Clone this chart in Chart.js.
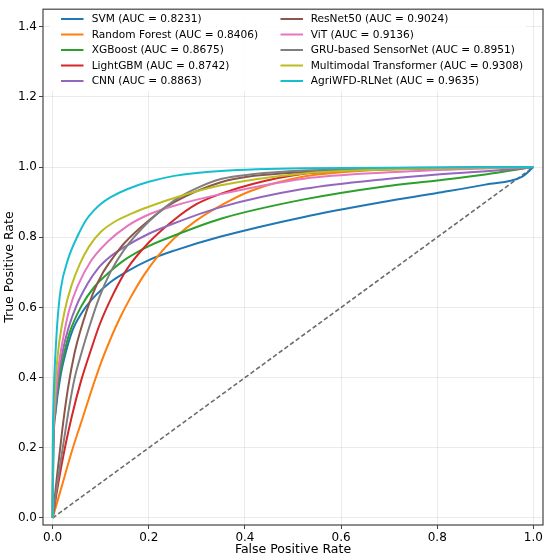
<!DOCTYPE html>
<html><head><meta charset="utf-8">
<script src="https://cdn.jsdelivr.net/npm/chart.js@4.4.1/dist/chart.umd.min.js"></script>
<style>html,body{margin:0;padding:0;background:#fff;overflow:hidden}#wrap{width:550px;height:559px}</style>
</head><body><div id="wrap"><canvas id="c" width="550" height="559" style="width:550px;height:559px"></canvas></div>
<script>
// ---------- data ----------
const modelNames = ['SVM','Random Forest','XGBoost','LightGBM','CNN','ResNet50','ViT','GRU-based SensorNet','Multimodal Transformer','AgriWFD-RLNet'];
const aucValues = [0.8231,0.8406,0.8675,0.8742,0.8863,0.9024,0.9136,0.8951,0.9308,0.9635];

const svmFPR = [0,0.0016,0.0061,0.0158,0.028,0.042,0.055,0.07,0.09,0.12,0.155,0.2,0.253,0.35,0.523,0.69,0.8,0.9,0.977,1];
const svmTPR = [0,0.2,0.3,0.4,0.475,0.537,0.572,0.603,0.635,0.672,0.703,0.735,0.762,0.802,0.858,0.901,0.926,0.950,0.973,1];

const rfFPR = [0,0.02,0.04,0.06,0.08,0.1,0.125,0.14,0.16,0.19,0.218,0.253,0.3,0.357,0.416,0.523,0.6,0.7,0.85,1];
const rfTPR = [0,0.095,0.19,0.275,0.36,0.44,0.525,0.57,0.623,0.692,0.745,0.797,0.849,0.896,0.934,0.973,0.985,0.993,0.997,1];

const xgbFPR = [0,0.0014,0.0054,0.0141,0.025,0.035,0.0595,0.087,0.12,0.149,0.2,0.253,0.35,0.523,0.69,0.8,0.9,1];
const xgbTPR = [0,0.2,0.3,0.4,0.475,0.527,0.603,0.659,0.703,0.735,0.775,0.805,0.853,0.908,0.945,0.962,0.979,1];

const lgbmFPR = [0,0.012,0.0256,0.04,0.059,0.08,0.0975,0.125,0.155,0.2,0.253,0.3,0.352,0.416,0.523,0.7,1];
const lgbmTPR = [0,0.1,0.2,0.29,0.39,0.48,0.55,0.635,0.71,0.785,0.85,0.895,0.925,0.952,0.981,0.994,1];

const cnnFPR = [0,0.0012,0.0046,0.0118,0.021,0.032,0.049,0.073,0.095,0.12,0.149,0.2,0.253,0.35,0.523,0.7,0.8,0.95,1];
const cnnTPR = [0,0.2,0.3,0.4,0.475,0.537,0.603,0.668,0.712,0.745,0.772,0.81,0.84,0.886,0.938,0.967,0.979,0.993,1];

const resnetFPR = [0,0.01,0.02,0.032,0.0456,0.057,0.084,0.105,0.129,0.149,0.2,0.253,0.35,0.42,0.523,0.7,1];
const resnetTPR = [0,0.13,0.25,0.37,0.47,0.53,0.64,0.70,0.748,0.783,0.848,0.9,0.957,0.975,0.986,0.995,1];

const vitFPR = [0,0.00096,0.0037,0.0096,0.0171,0.0214,0.028,0.035,0.0525,0.08,0.115,0.155,0.2,0.253,0.35,0.523,0.7,0.85,1];
const vitTPR = [0,0.2,0.3,0.4,0.475,0.508,0.555,0.595,0.662,0.733,0.788,0.832,0.865,0.89,0.923,0.967,0.985,0.994,1];

const gruFPR = [0,0.01,0.02,0.035,0.046,0.06,0.073,0.0975,0.12,0.149,0.2,0.253,0.3,0.35,0.42,0.523,0.7,1];
const gruTPR = [0,0.1,0.19,0.32,0.4,0.47,0.53,0.63,0.70,0.765,0.845,0.905,0.94,0.966,0.98,0.99,0.997,1];

const mmtFPR = [0,0.00065,0.0025,0.0065,0.0116,0.0145,0.025,0.0387,0.056,0.075,0.1,0.13,0.165,0.2,0.253,0.35,0.523,0.7,1];
const mmtTPR = [0,0.2,0.3,0.4,0.475,0.508,0.59,0.66,0.722,0.772,0.815,0.845,0.868,0.887,0.912,0.948,0.982,0.993,1];

const agriFPR = [0,0.00035,0.00135,0.0035,0.0062,0.0097,0.0166,0.032,0.0525,0.07,0.087,0.1,0.12,0.155,0.2,0.253,0.35,0.52,1];
const agriTPR = [0,0.2,0.3,0.4,0.475,0.555,0.65,0.737,0.805,0.85,0.878,0.895,0.914,0.937,0.958,0.975,0.989,0.997,1];

const diagFPR = [0,1];
const diagTPR = [0,1];

const xTicks = [0,0.2,0.4,0.6,0.8,1.0];
const yTicks = [0,0.2,0.4,0.6,0.8,1.0,1.2,1.4];

// ---------- styles ----------
const colors = ['#1f77b4','#ff7f0e','#2ca02c','#d62728','#9467bd','#8c564b','#e377c2','#7f7f7f','#bcbd22','#17becf'];
const FONT = 'DejaVu Sans';

const curves = [
  [svmFPR,svmTPR],[rfFPR,rfTPR],[xgbFPR,xgbTPR],[lgbmFPR,lgbmTPR],[cnnFPR,cnnTPR],
  [resnetFPR,resnetTPR],[vitFPR,vitTPR],[gruFPR,gruTPR],[mmtFPR,mmtTPR],[agriFPR,agriTPR]
];
const toPts = (xs,ys) => xs.map((x,i)=>({x:x,y:ys[i]}));

const datasets = curves.map((c,i)=>({
  label: modelNames[i] + ' (AUC = ' + aucValues[i].toFixed(4) + ')',
  data: toPts(c[0],c[1]),
  borderColor: colors[i],
  backgroundColor: colors[i],
  borderWidth: 2,
  pointRadius: 0,
  fill: false,
  cubicInterpolationMode: 'monotone',
  order: 20 - i,
  isModel: true
}));
datasets.push({
  label: 'diag',
  data: toPts(diagFPR,diagTPR),
  borderColor: 'rgba(0,0,0,0.58)',
  borderWidth: 1.6,
  borderDash: [4.5,2.5],
  pointRadius: 0,
  fill: false,
  order: 30,
  isModel: false
});

const framePlugin = {
  id: 'frame',
  afterDraw(chart){
    const a = chart.chartArea, ctx = chart.ctx;
    ctx.save();
    ctx.strokeStyle = '#444';
    ctx.lineWidth = 1.2;
    ctx.strokeRect(a.left, a.top, a.right - a.left, a.bottom - a.top);
    ctx.restore();
  }
};

const legendPlugin = {
  id: 'legendBox',
  afterDatasetsDraw(chart){
    const ctx = chart.ctx;
    ctx.save();
    ctx.fillStyle = 'rgba(255,255,255,0.9)';
    ctx.fillRect(50, 9, 476, 82);
    ctx.font = '10.6px "' + FONT + '"';
    ctx.textBaseline = 'middle';
    ctx.textAlign = 'left';
    const items = chart.data.datasets.filter(d=>d.isModel);
    const rowY0 = 19, rowH = 15.5;
    const cols = [{hx:61, tx:91.7},{hx:280.5, tx:310.7}];
    items.forEach((d,i)=>{
      const col = cols[Math.floor(i/5)];
      const y = rowY0 + (i%5)*rowH;
      ctx.strokeStyle = d.borderColor;
      ctx.lineWidth = 2;
      ctx.beginPath();
      ctx.moveTo(col.hx, y);
      ctx.lineTo(col.hx + 22.5, y);
      ctx.stroke();
      ctx.fillStyle = '#000';
      ctx.fillText(d.label, col.tx, y + 0.5);
    });
    ctx.restore();
  }
};

const tickFont = {family: FONT, size: 12};
const titleFont = {family: FONT, size: 12.5};
const gridOpts = {color: 'rgba(0,0,0,0.08)', lineWidth: 1, drawTicks: true, tickLength: 4, tickColor: '#444', tickWidth: 1};

new Chart(document.getElementById('c'), {
  type: 'line',
  data: {datasets},
  plugins: [framePlugin, legendPlugin],
  options: {
    responsive: false,
    animation: false,
    devicePixelRatio: 1,
    layout: {padding: {left: 0, top: 5, right: 7, bottom: 0}},
    plugins: {legend: {display: false}, tooltip: {enabled: false}},
    scales: {
      x: {
        type: 'linear', min: -0.02, max: 1.02,
        afterBuildTicks: s => { s.ticks = xTicks.map(v=>({value: v})); },
        afterFit: s => { s.height = 34; },
        ticks: {callback: v => Number(v).toFixed(1), font: tickFont, color: '#000', padding: 2, maxRotation: 0, autoSkip: false},
        grid: gridOpts,
        border: {display: false},
        title: {display: true, text: 'False Positive Rate', font: titleFont, color: '#000', padding: {top: 0, bottom: 2}}
      },
      y: {
        type: 'linear', min: -0.02, max: 1.45,
        afterBuildTicks: s => { s.ticks = yTicks.map(v=>({value: v})); },
        afterFit: s => { s.width = 43; },
        ticks: {callback: v => Number(v).toFixed(1), font: tickFont, color: '#000', padding: 2, autoSkip: false},
        grid: gridOpts,
        border: {display: false},
        title: {display: true, text: 'True Positive Rate', font: titleFont, color: '#000', padding: {top: 2, bottom: 0}}
      }
    }
  }
});
</script>
</body></html>
